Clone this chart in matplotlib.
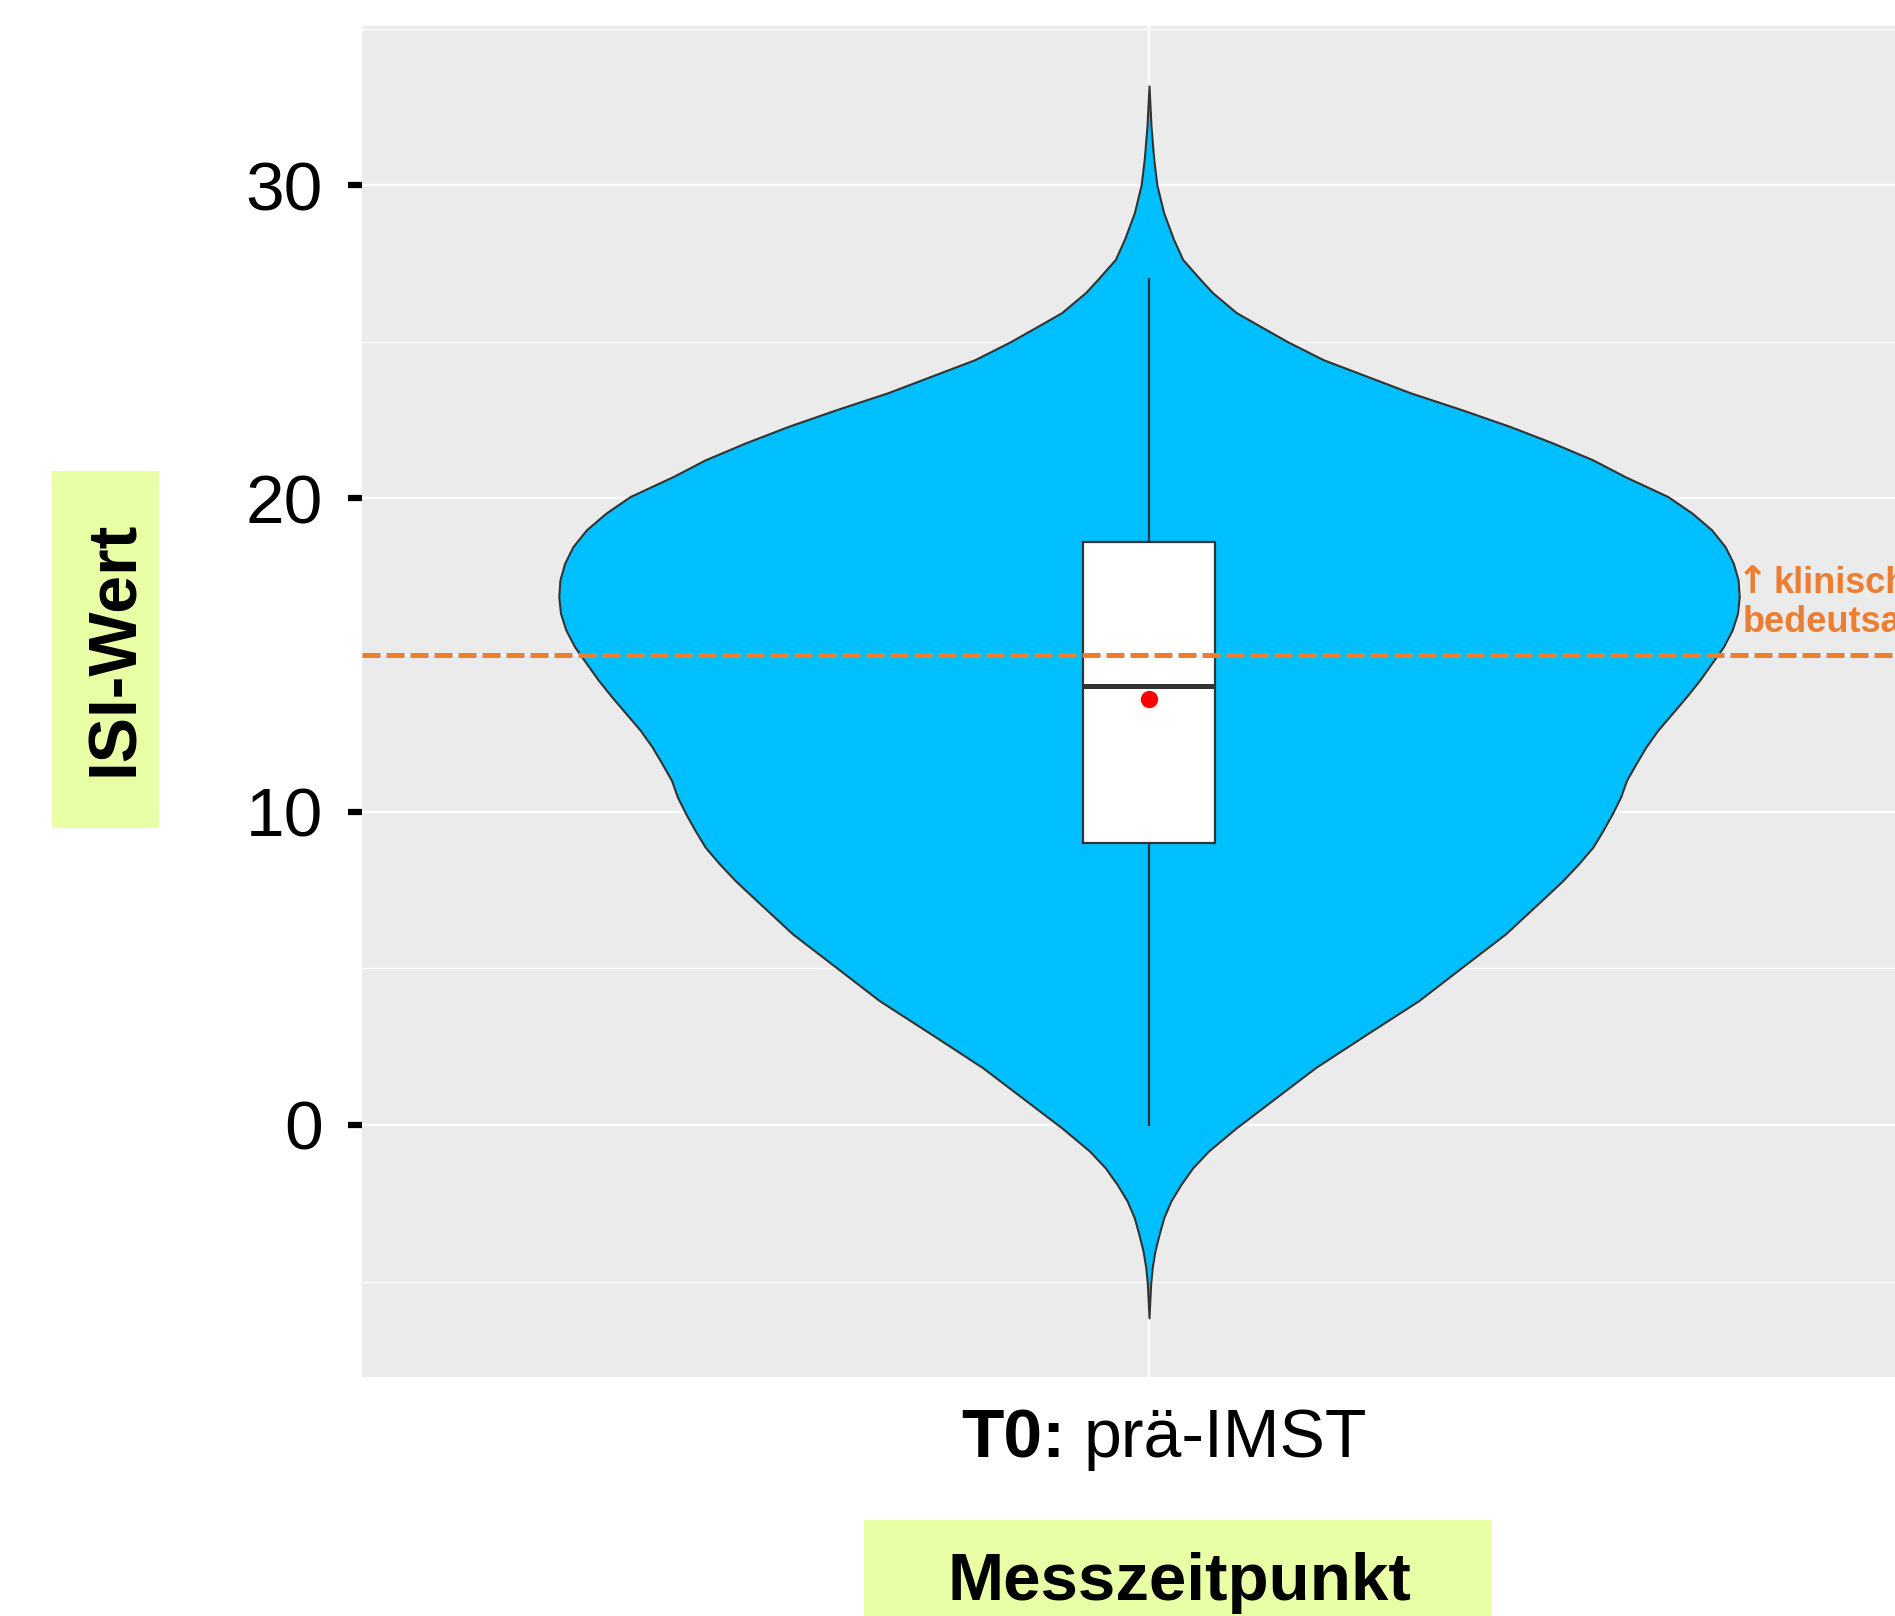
import matplotlib
matplotlib.use("Agg")
import matplotlib.pyplot as plt
from matplotlib.patches import Rectangle
import numpy as np

plt.rcParams['font.family'] = ['Liberation Sans', 'DejaVu Sans']

# ---------------- data ----------------
category_bold = "T0:"
category_rest = "prä-IMST"
y_label = "ISI-Wert"
x_label = "Messzeitpunkt"
threshold = 15
threshold_arrow = "↑"
threshold_lines = ["klinisch", "bedeutsam"]

q1, median, q3 = 9, 14, 18.6
whisker_low, whisker_high = 0, 27
mean_value = 13.6

yticks = [0, 10, 20, 30]
yminor = [-5, 5, 15, 25, 35]

# violin profile: ISI value and relative density (max = 1)
violin_y = [-6.16, -5.10, -4.56, -4.03, -3.50, -2.96, -2.43, -1.90, -1.37, -0.83,
            -0.09, 0.77, 1.83, 2.90, 3.97, 5.03, 6.10, 7.27, 7.80, 8.34,
            8.87, 9.40, 9.94, 10.47, 11.0, 11.53, 12.07, 12.60, 13.13, 13.66,
            14.20, 14.73, 15.26, 15.80, 16.33, 16.86, 17.40, 17.93, 18.46, 19.0,
            19.53, 20.06, 20.70, 21.23, 21.77, 22.30, 22.83, 23.37, 23.90, 24.43,
            25.0, 25.50, 25.93, 26.57, 26.99, 27.63, 28.27, 29.12, 30.0, 30.83,
            31.89, 33.17]
violin_density = [0, 0.0027, 0.0054, 0.010, 0.017, 0.025, 0.037, 0.054, 0.074, 0.101,
                  0.148, 0.208, 0.282, 0.369, 0.457, 0.530, 0.604, 0.671, 0.701, 0.728,
                  0.752, 0.769, 0.785, 0.799, 0.809, 0.825, 0.842, 0.862, 0.886, 0.910,
                  0.933, 0.953, 0.973, 0.988, 0.997, 1.0, 0.998, 0.990, 0.976, 0.953,
                  0.920, 0.879, 0.806, 0.752, 0.684, 0.611, 0.530, 0.443, 0.369, 0.295,
                  0.235, 0.188, 0.148, 0.1075, 0.087, 0.057, 0.0416, 0.0248, 0.0134, 0.008,
                  0.0034, 0]

# ---------------- figure ----------------
W, H = 1895, 1616
DPI = 100
fig = plt.figure(figsize=(W / DPI, H / DPI), dpi=DPI, facecolor='white')


def fx(px):
    return px / W


def fy(py):
    return 1 - py / H


ax = fig.add_axes([fx(362), fy(1376.5), (1936 - 362) / W, (1376.5 - 26) / H])
ax.set_facecolor('#EBEBEB')
for s in ax.spines.values():
    s.set_visible(False)

ax.set_xlim(0.4, 1.6)
ax.set_ylim(-8.03, 35.08)

ax.set_yticks(yticks)
ax.set_yticks(yminor, minor=True)
ax.set_yticklabels([str(t) for t in yticks])
ax.set_xticks([1])
ax.set_xticklabels([''])
ax.tick_params(axis='y', which='major', length=10, width=4.5, color='black',
               pad=18, labelsize=50, labelcolor='black')
ax.tick_params(axis='y', which='minor', length=0)
ax.tick_params(axis='x', length=0)

ax.grid(which='major', axis='both', color='white', lw=1.6, zorder=0)
ax.grid(which='minor', axis='y', color='white', lw=0.9, zorder=0)
ax.set_axisbelow(True)

# violin
vy = np.array(violin_y)
vd = np.array(violin_density)
half = 0.45
ax.fill_betweenx(vy, 1 - half * vd, 1 + half * vd, facecolor='#00BFFF',
                 edgecolor='#333333', lw=1.5, zorder=2)

# box plot
ax.plot([1, 1], [whisker_low, q1], color='#333333', lw=1.6, zorder=3)
ax.plot([1, 1], [q3, whisker_high], color='#333333', lw=1.6, zorder=3)
ax.add_patch(Rectangle((0.95, q1), 0.1, q3 - q1, facecolor='white',
                       edgecolor='#333333', lw=1.6, zorder=3))
ax.plot([0.95, 1.05], [median, median], color='#333333', lw=3.6,
        solid_capstyle='butt', zorder=4)

# threshold line
ax.axhline(threshold, color='#ED7D31', lw=3.6, dashes=(3.6, 1.2), zorder=5)

# mean point
ax.plot([1], [mean_value], 'o', color='#FF0000', ms=12.5, mec='none', zorder=6)

# threshold annotation
orange = '#ED7D31'
fig.text(fx(1752), fy(593), threshold_arrow, color=orange, weight='bold',
         size=27, ha='center', va='baseline', family='DejaVu Sans')
fig.text(fx(1773), fy(593), threshold_lines[0], color=orange, weight='bold',
         size=26, ha='left', va='baseline')
fig.text(fx(1743), fy(632), threshold_lines[1], color=orange, weight='bold',
         size=26, ha='left', va='baseline')

# x tick label (bold part + regular part)
fig.text(fx(961), fy(1457), category_bold, weight='bold', size=50,
         ha='left', va='baseline')
fig.text(fx(1084), fy(1457), category_rest, size=49,
         ha='left', va='baseline')

# axis titles with coloured backgrounds
label_bg = '#E9FFA5'
fig.patches.append(Rectangle((fx(52), fy(828)), 107 / W, (828 - 471) / H,
                             facecolor=label_bg, edgecolor='none',
                             transform=fig.transFigure, zorder=0))
fig.text(fx(133), fy(648), y_label, rotation=90, rotation_mode='anchor',
         ha='center', va='baseline', weight='bold', size=49)

fig.patches.append(Rectangle((fx(864), fy(1616)), (1492 - 864) / W, (1616 - 1520) / H,
                             facecolor=label_bg, edgecolor='none',
                             transform=fig.transFigure, zorder=0))
fig.text(fx(1179), fy(1600), x_label, ha='center', va='baseline',
         weight='bold', size=48.5)

fig.savefig('out.png', dpi=DPI, facecolor='white')
